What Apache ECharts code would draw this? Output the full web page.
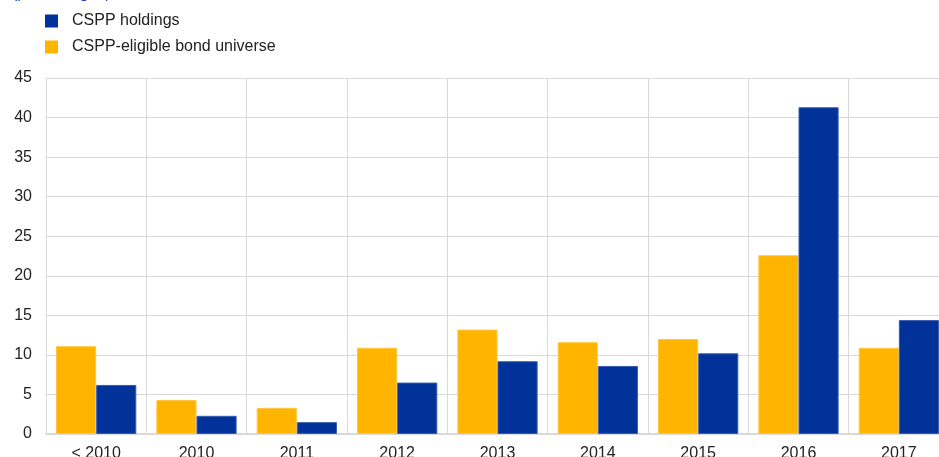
<!DOCTYPE html>
<html><head><meta charset="utf-8">
<script src="https://cdn.jsdelivr.net/npm/echarts@6/dist/echarts.min.js"></script>
<style>html,body{margin:0;padding:0;background:#fff}#c{width:939px;height:457px}</style>
</head><body><div id="c"></div>
<script>
const categories = ['< 2010','2010','2011','2012','2013','2014','2015','2016','2017'];
const eligible = [11.1, 4.3, 3.3, 10.9, 13.2, 11.6, 12.0, 22.6, 10.9];
const holdings = [6.2, 2.3, 1.5, 6.5, 9.2, 8.6, 10.2, 41.3, 14.4];
const yTicks = {min: 0, max: 45, interval: 5};

const FONT = 'Liberation Sans, Arial, sans-serif';
const chart = echarts.init(document.getElementById('c'), null, {renderer: 'canvas'});
chart.setOption({
  animation: false,
  textStyle: {fontFamily: FONT},
  title: {
    text: '(percentages)', left: 7, top: -19,
    textStyle: {color: '#1f3fbf', fontSize: 16, fontWeight: 'normal', fontFamily: FONT}
  },
  legend: {
    orient: 'vertical', left: 40, top: 8, itemWidth: 13, itemHeight: 13, itemGap: 10,
    icon: 'rect',
    itemStyle: {borderWidth: 0},
    textStyle: {fontSize: 16, color: '#222', padding: [0,0,0,9], fontFamily: FONT},
    data: ['CSPP holdings', 'CSPP-eligible bond universe']
  },
  grid: {left: 46, top: 78, right: -10, bottom: 23, containLabel: false, outerBoundsMode: 'none'},
  xAxis: {
    type: 'category', data: categories,
    axisLine: {show: true, lineStyle: {color: '#d9d9d9', width: 2}},
    axisTick: {show: false},
    splitLine: {show: true, lineStyle: {color: '#d9d9d9', width: 1}},
    axisLabel: {color: '#222', fontSize: 16, margin: 12, interval: 0, fontFamily: FONT}
  },
  yAxis: {
    type: 'value', min: yTicks.min, max: yTicks.max, interval: yTicks.interval,
    axisLine: {show: false}, axisTick: {show: false},
    splitLine: {lineStyle: {color: '#d9d9d9', width: 1}},
    axisLabel: {color: '#222', fontSize: 16, margin: 14, fontFamily: FONT}
  },
  series: [
    {name: 'CSPP-eligible bond universe', type: 'bar', data: eligible,
     itemStyle: {color: '#FFB400', borderColor: '#ffc640', borderWidth: 1}, barGap: '0%', barCategoryGap: '20%'},
    {name: 'CSPP holdings', type: 'bar', data: holdings,
     itemStyle: {color: '#003299', borderColor: '#3a5cb0', borderWidth: 1}, barGap: '0%', barCategoryGap: '20%'}
  ]
});
</script></body></html>
